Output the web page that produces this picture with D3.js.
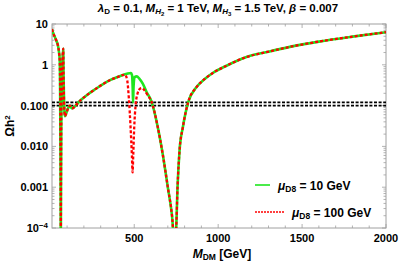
<!DOCTYPE html>
<html>
<head>
<meta charset="utf-8">
<script src="https://cdn.jsdelivr.net/npm/d3@7"></script>
<style>
  body { margin: 0; background: #fff; }
  svg text { font-family: "Liberation Sans", Arial, sans-serif; font-weight: bold; }
</style>
</head>
<body>
<div id="chart"></div>
<script>
// relic density vs DM mass
const green10 = [
  [10, 7.5], [15, 6.3], [25, 5.0], [35, 4.0], [45, 3.0], [52, 2.0], [56, 1.3], [58, 0.4],
  [60, 0.02], [61.5, 0.0008], [62.5, 0.00004], [63.5, 0.0008], [65, 0.02], [68, 0.3],
  [72, 1.2], [77, 2.5], [79, 0.5], [82, 0.12], [87, 0.055], [95, 0.065], [105, 0.085],
  [117, 0.1], [125, 0.088], [133, 0.086], [150, 0.1], [180, 0.135], [217, 0.18],
  [260, 0.24], [300, 0.31], [355, 0.42], [400, 0.5], [455, 0.6], [480, 0.63],
  [487, 0.55], [491, 0.25], [493, 0.12], [496, 0.3], [502, 0.5], [515, 0.52],
  [530, 0.46], [550, 0.35], [575, 0.21], [603, 0.125], [640, 0.03], [671, 0.006],
  [700, 0.001], [725, 0.0002], [740, 0.00004], [750, 0.0001], [758, 0.001],
  [770, 0.008], [790, 0.03], [821, 0.12], [870, 0.28], [920, 0.45], [968, 0.63],
  [1050, 0.95], [1169, 1.55], [1300, 2.1], [1427, 2.75], [1600, 3.7], [1800, 4.9],
  [2000, 6.3]
];

const red100 = [
  [10, 7.5], [15, 6.3], [25, 5.0], [35, 4.0], [45, 3.0], [52, 2.0], [56, 1.3], [58, 0.4],
  [60, 0.02], [61.5, 0.0008], [62.5, 0.00004], [63.5, 0.0008], [65, 0.02], [68, 0.3],
  [72, 1.2], [77, 2.5], [79, 0.5], [82, 0.12], [87, 0.055], [95, 0.065], [105, 0.085],
  [117, 0.1], [125, 0.088], [133, 0.086], [150, 0.1], [180, 0.135], [217, 0.18],
  [260, 0.24], [300, 0.31], [355, 0.42], [400, 0.5], [430, 0.56], [445, 0.57],
  [458, 0.42], [468, 0.15], [478, 0.03], [486, 0.006], [490, 0.0023], [494, 0.006],
  [500, 0.03], [508, 0.1], [520, 0.2], [535, 0.26], [545, 0.27], [560, 0.24],
  [580, 0.18], [603, 0.125], [640, 0.03], [671, 0.006], [700, 0.001], [725, 0.0002],
  [740, 0.00004], [750, 0.0001], [758, 0.001], [770, 0.008], [790, 0.03], [821, 0.12],
  [870, 0.28], [920, 0.45], [968, 0.63], [1050, 0.95], [1169, 1.55], [1300, 2.1],
  [1427, 2.75], [1600, 3.7], [1800, 4.9], [2000, 6.3]
];

const relicBand = [0.1, 0.12];
const yTicks = [10, 1, 0.1, 0.01, 0.001, 0.0001];
const yTickLabels = ["10", "1", "0.100", "0.010", "0.001", "10^-4"];
const xTicks = [500, 1000, 1500, 2000];

const width = 399, height = 264;
const margin = { top: 24, right: 13, bottom: 36, left: 52 };
const plotW = width - margin.left - margin.right,
      plotH = height - margin.top - margin.bottom;

const svg = d3.select("#chart").append("svg")
    .attr("width", width)
    .attr("height", height);

const x = d3.scaleLinear().domain([10, 2000]).range([margin.left, margin.left + plotW]);
const y = d3.scaleLog().domain([1e-4, 10]).range([margin.top + plotH, margin.top]);

svg.append("defs").append("clipPath").attr("id", "clip")
  .append("rect")
    .attr("x", margin.left).attr("y", margin.top)
    .attr("width", plotW).attr("height", plotH);

// frame + ticks (mathematica style, ticks on all four sides)
const frameCol = "#a0a0a0";
svg.append("rect")
    .attr("x", margin.left).attr("y", margin.top)
    .attr("width", plotW).attr("height", plotH)
    .attr("fill", "none").attr("stroke", frameCol).attr("stroke-width", 1);

const xMinor = d3.range(100, 2000, 100).filter(v => v % 500 !== 0);
const yMinor = [];
[-4, -3, -2, -1, 0].forEach(e => {
  for (let k = 2; k <= 9; k++) yMinor.push(k * Math.pow(10, e));
});

const tickG = svg.append("g").attr("stroke", frameCol).attr("stroke-width", 0.8);
const yTop = margin.top, yBot = margin.top + plotH, xLft = margin.left, xRgt = margin.left + plotW;

xTicks.concat(xMinor).forEach(v => {
  const len = xTicks.includes(v) ? 4 : 2.5;
  tickG.append("line").attr("x1", x(v)).attr("x2", x(v)).attr("y1", yBot).attr("y2", yBot - len);
  tickG.append("line").attr("x1", x(v)).attr("x2", x(v)).attr("y1", yTop).attr("y2", yTop + len);
});
yTicks.concat(yMinor).forEach(v => {
  const len = yTicks.includes(v) ? 4 : 2.5;
  tickG.append("line").attr("y1", y(v)).attr("y2", y(v)).attr("x1", xLft).attr("x2", xLft + len);
  tickG.append("line").attr("y1", y(v)).attr("y2", y(v)).attr("x1", xRgt).attr("x2", xRgt - len);
});

// tick labels
svg.append("g").selectAll("text")
  .data(xTicks).enter().append("text")
    .attr("x", d => x(d))
    .attr("y", yBot + 14)
    .attr("text-anchor", "middle")
    .style("font-size", "11px")
    .text(d => d);

yTicks.forEach((v, i) => {
  const t = svg.append("text")
      .attr("x", xLft - 4)
      .attr("y", y(v) + 4)
      .attr("text-anchor", "end")
      .style("font-size", "11px");
  const lab = yTickLabels[i];
  if (lab.includes("^")) {
    const [b, p] = lab.split("^");
    t.append("tspan").text(b);
    t.append("tspan").attr("dy", -4.5).style("font-size", "8px").text(p.replace("-", "\u2212"));
  } else {
    t.text(lab);
  }
});

// relic abundance band
const plot = svg.append("g").attr("clip-path", "url(#clip)");
relicBand.forEach(v => {
  plot.append("line")
      .attr("x1", xLft).attr("x2", xRgt)
      .attr("y1", y(v)).attr("y2", y(v))
      .attr("stroke", "#000").attr("stroke-width", 1.8)
      .attr("stroke-dasharray", "3,1.6");
});

const line = d3.line()
    .x(d => x(d[0]))
    .y(d => y(d[1]))
    .curve(d3.curveMonotoneX);

plot.append("path")
    .datum(green10)
    .attr("d", line)
    .attr("fill", "none")
    .attr("stroke", "#1ee61e")
    .attr("stroke-width", 2.6);

plot.append("path")
    .datum(red100)
    .attr("d", line)
    .attr("fill", "none")
    .attr("stroke", "#ff0000")
    .attr("stroke-width", 2.3)
    .attr("stroke-dasharray", "3,2");

// legend
const legend = svg.append("g");
legend.append("line")
    .attr("x1", 255).attr("x2", 270).attr("y1", 185).attr("y2", 185)
    .attr("stroke", "#1ee61e").attr("stroke-width", 1.6);
legend.append("line")
    .attr("x1", 255).attr("x2", 285).attr("y1", 212).attr("y2", 212)
    .attr("stroke", "#ff0000").attr("stroke-width", 1.6)
    .attr("stroke-dasharray", "2,1");

function muLabel(xPos, yPos, rest) {
  const t = legend.append("text").attr("x", xPos).attr("y", yPos).style("font-size", "12px");
  t.append("tspan").style("font-style", "italic").text("\u03bc");
  t.append("tspan").attr("dy", 2.5).style("font-size", "8.5px").text("D8");
  t.append("tspan").attr("dy", -2.5).text(" = " + rest);
}
muLabel(278, 189.5, "10 GeV");
muLabel(292, 216.5, "100 GeV");

// title
const title = svg.append("text")
    .attr("x", 218)
    .attr("y", 12)
    .attr("text-anchor", "middle")
    .style("font-size", "11.5px");
title.append("tspan").style("font-style", "italic").text("\u03bb");
title.append("tspan").attr("dy", 2).style("font-size", "8px").text("D");
title.append("tspan").attr("dy", -2).text(" = 0.1, ");
title.append("tspan").style("font-style", "italic").text("M");
title.append("tspan").attr("dy", 2).style("font-size", "8px").style("font-style", "italic").text("H");
title.append("tspan").attr("dy", 1.5).style("font-size", "6px").text("2");
title.append("tspan").attr("dy", -3.5).text(" = 1 TeV, ");
title.append("tspan").style("font-style", "italic").text("M");
title.append("tspan").attr("dy", 2).style("font-size", "8px").style("font-style", "italic").text("H");
title.append("tspan").attr("dy", 1.5).style("font-size", "6px").text("3");
title.append("tspan").attr("dy", -3.5).text(" = 1.5 TeV, ");
title.append("tspan").style("font-style", "italic").text("\u03b2");
title.append("tspan").text(" = 0.007");

// axis labels
const xl = svg.append("text")
    .attr("x", 222)
    .attr("y", 258)
    .attr("text-anchor", "middle")
    .style("font-size", "12px");
xl.append("tspan").style("font-style", "italic").text("M");
xl.append("tspan").attr("dy", 2).style("font-size", "8.5px").text("DM");
xl.append("tspan").attr("dy", -2).text(" [GeV]");

const yl = svg.append("text")
    .attr("transform", `translate(14,${(yTop + yBot) / 2}) rotate(-90)`)
    .attr("text-anchor", "middle")
    .style("font-size", "12px");
yl.append("tspan").text("\u03a9h");
yl.append("tspan").attr("dy", -4.5).style("font-size", "8px").text("2");
</script>
</body>
</html>
